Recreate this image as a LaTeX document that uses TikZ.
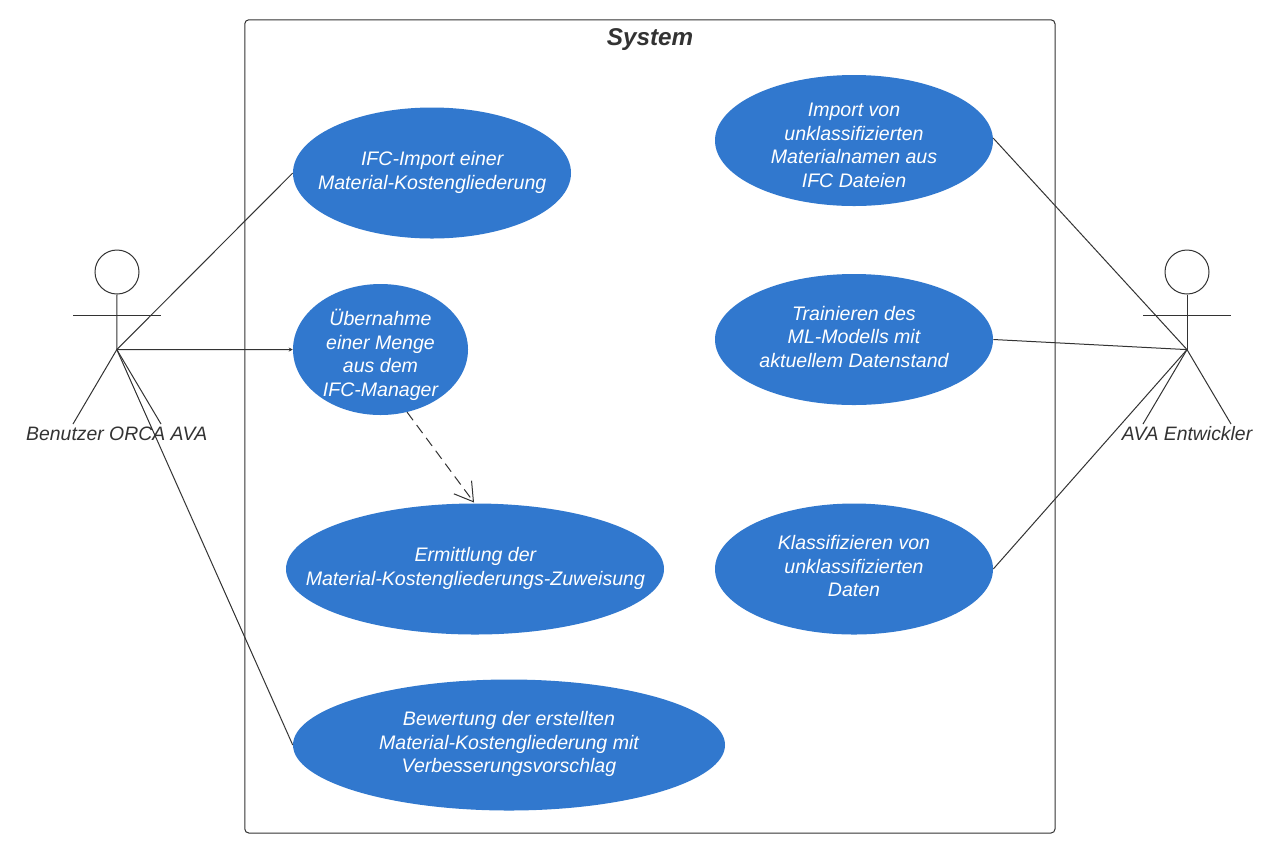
\documentclass[tikz,border=0pt]{standalone}
\usepackage{fontspec}
\setmainfont{Liberation Sans}
\usetikzlibrary{shapes.geometric,arrows.meta}
\definecolor{ub}{HTML}{3178CE}
\definecolor{ink}{HTML}{333333}
\tikzset{
 x=0.75pt,y=-0.75pt,
 uc/.style={ellipse,fill=ub,inner sep=0pt,minimum height=98.25pt},
 uct/.style={text=white,inner sep=0pt,align=center,font=\fontsize{14.67}{17.6}\selectfont\itshape},
 lab/.style={text=ink,inner sep=0pt,font=\fontsize{14.55}{18}\selectfont\itshape},
 ln/.style={draw=ink,line width=0.75pt},
 tiptiny/.style={-{Stealth[length=3pt,width=3pt]}},
}
\begin{document}
\begin{tikzpicture}
\useasboundingbox (0,0) rectangle (1276,858);
\fill[white] (0,0) rectangle (1276,858);
\draw[ln,rounded corners=3pt] (244.8,19.8) rectangle (1055,833);
\node[lab,font=\fontsize{18.2}{22}\selectfont\bfseries\itshape] (sys) at (650,39.5) {System};
% use cases
\node[uc,minimum width=208.5pt] (e1) at (432,173) {};
\node[uct] (t1) at (432.2,172.6) {IFC-Import einer\\Material-Kostengliederung};
\node[uc,minimum width=131.25pt] (e2) at (380.5,349.5) {};
\node[uct] (t2) at (380.5,355) {Übernahme\\einer Menge\\aus dem\\IFC-Manager};
\node[uc,minimum width=283.5pt] (e3) at (475,569) {};
\node[uct] (t3) at (475.4,568.3) {Ermittlung der\\Material-Kostengliederungs-Zuweisung};
\node[uc,minimum width=324pt] (e4) at (509,745) {};
\node[uct] (t4) at (509,744) {Bewertung der erstellten\\Material-Kostengliederung mit\\Verbesserungsvorschlag};
\node[uc,minimum width=208.5pt] (r1) at (854,140.5) {};
\node[uct] (u1) at (854,145.3) {Import von\\unklassifizierten\\Materialnamen aus\\IFC Dateien};
\node[uc,minimum width=208.5pt] (r2) at (854,339.5) {};
\node[uct] (u2) at (854,337) {Trainieren des\\ML-Modells mit\\aktuellem Datenstand};
\node[uc,minimum width=208.5pt] (r3) at (854,569) {};
\node[uct] (u3) at (854,566.3) {Klassifizieren von\\unklassifizierten\\Daten};
% left actor
\node[circle,ln,inner sep=0pt,minimum size=33pt] (ah) at (117,272) {};
\coordinate (ahub) at (116.8,349.6);
\coordinate (aal) at (73,315.6);
\coordinate (aar) at (161,315.6);
\coordinate (afl) at (73,424);
\coordinate (afr) at (161,424);
\draw[ln] (ah.south) -- (ahub);
\draw[ln] (aal) -- (aar);
\draw[ln] (afl) -- (ahub) -- (afr);
\node[lab] (al) at (116.8,434) {Benutzer ORCA AVA};
% right actor
\node[circle,ln,inner sep=0pt,minimum size=33pt] (bh) at (1187,272) {};
\coordinate (bhub) at (1187,349.6);
\coordinate (bal) at (1143,315.6);
\coordinate (bar) at (1231,315.6);
\coordinate (bfl) at (1143,424);
\coordinate (bfr) at (1231,424);
\draw[ln] (bh.south) -- (bhub);
\draw[ln] (bal) -- (bar);
\draw[ln] (bfl) -- (bhub) -- (bfr);
\node[lab] (bl) at (1187,434) {AVA Entwickler};
% connectors
\draw[ln] (ahub) -- (e1.west);
\draw[ln,tiptiny] (ahub) -- (e2.west);
\draw[ln] (ahub) -- (e4.west);
\draw[ln] (bhub) -- (r1.1);
\draw[ln] (bhub) -- (r2.east);
\draw[ln] (bhub) -- (r3.east);
\coordinate (dtip) at (474,502.5);
\draw[ln,dash pattern=on 7.5pt off 4.5pt,-{Straight Barb[length=13.5pt,width=16.5pt,line width=0.75pt]}] (e2.-67) -- (dtip);
\end{tikzpicture}
\end{document}
